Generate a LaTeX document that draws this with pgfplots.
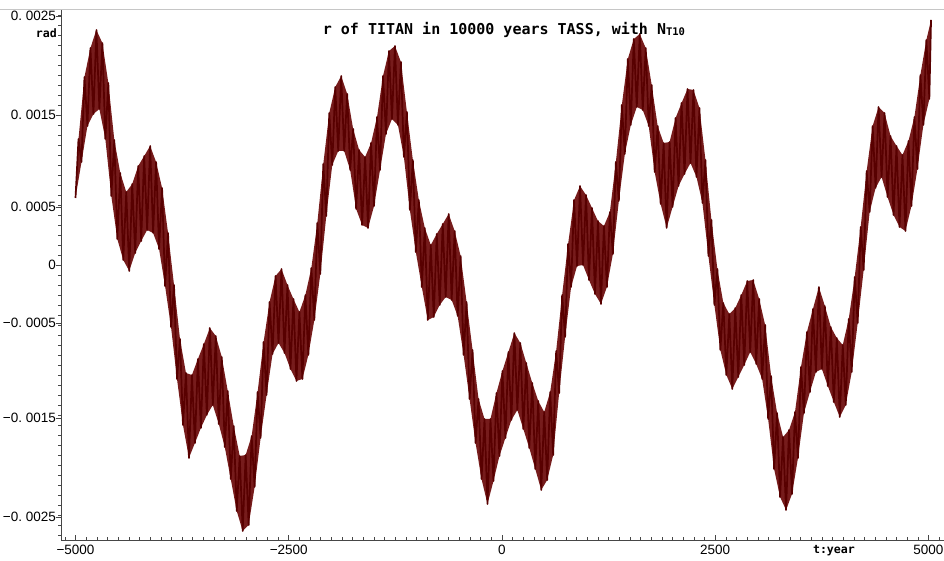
\documentclass[border=0pt]{standalone}
\usepackage{fontspec}
\setmainfont{Liberation Sans}
\newfontfamily\gothic{DejaVu Sans Mono}
\usepackage{pgfplots}
\usepackage{pgfplotstable}
\usepgfplotslibrary{fillbetween}
\pgfplotsset{compat=1.18}
\definecolor{titanred}{RGB}{88,0,0}
\definecolor{titanband}{RGB}{118,28,28}
\definecolor{axisgray}{RGB}{70,70,70}

% r of Titan (rad) against time (years), TASS solution;
% rows alternate between the low and the high turning points
\pgfplotstableread{
t r
-5000 0.00067
-4965 0.00126
-4930 0.00103
-4895 0.00188
-4860 0.00139
-4825 0.00217
-4790 0.00151
-4755 0.00235
-4720 0.00156
-4685 0.00222
-4650 0.00126
-4615 0.00182
-4580 0.00069
-4545 0.00125
-4510 0.00026
-4475 0.00092
-4440 0.00005
-4405 0.00073
-4370 -0.00006
-4335 0.00081
-4300 0.00012
-4265 0.00099
-4230 0.00024
-4195 0.00109
-4160 0.00035
-4125 0.00119
-4090 0.00032
-4055 0.00103
-4020 0.00016
-3985 0.00077
-3950 -0.00021
-3915 0.00032
-3880 -0.00062
-3845 -0.00020
-3810 -0.00114
-3775 -0.00074
-3740 -0.00160
-3705 -0.00108
-3670 -0.00193
-3635 -0.00110
-3600 -0.00178
-3565 -0.00094
-3530 -0.00163
-3495 -0.00079
-3460 -0.00150
-3425 -0.00063
-3390 -0.00140
-3355 -0.00071
-3320 -0.00159
-3285 -0.00092
-3250 -0.00182
-3215 -0.00126
-3180 -0.00214
-3145 -0.00161
-3110 -0.00246
-3075 -0.00191
-3040 -0.00266
-3005 -0.00190
-2970 -0.00260
-2935 -0.00171
-2900 -0.00222
-2865 -0.00127
-2830 -0.00173
-2795 -0.00077
-2760 -0.00130
-2725 -0.00037
-2690 -0.00089
-2655 -0.00011
-2620 -0.00078
-2585 -0.00004
-2550 -0.00088
-2515 -0.00020
-2480 -0.00104
-2445 -0.00034
-2410 -0.00116
-2375 -0.00047
-2340 -0.00114
-2305 -0.00030
-2270 -0.00090
-2235 -0.00003
-2200 -0.00055
-2165 0.00042
-2130 -0.00009
-2095 0.00101
-2060 0.00049
-2025 0.00152
-1990 0.00100
-1955 0.00178
-1920 0.00114
-1885 0.00189
-1850 0.00114
-1815 0.00171
-1780 0.00095
-1745 0.00136
-1710 0.00056
-1675 0.00115
-1640 0.00040
-1605 0.00108
-1570 0.00037
-1535 0.00122
-1500 0.00059
-1465 0.00148
-1430 0.00095
-1395 0.00189
-1360 0.00131
-1325 0.00214
-1290 0.00146
-1255 0.00219
-1220 0.00140
-1185 0.00203
-1150 0.00108
-1115 0.00153
-1080 0.00055
-1045 0.00105
-1010 0.00013
-975 0.00065
-940 -0.00022
-905 0.00037
-870 -0.00055
-835 0.00020
-800 -0.00052
-765 0.00031
-730 -0.00040
-695 0.00041
-660 -0.00032
-625 0.00051
-590 -0.00035
-555 0.00034
-520 -0.00051
-485 0.00009
-450 -0.00090
-415 -0.00037
-380 -0.00134
-345 -0.00085
-310 -0.00178
-275 -0.00134
-240 -0.00214
-205 -0.00154
-170 -0.00239
-135 -0.00154
-100 -0.00216
-65 -0.00128
-30 -0.00191
5 -0.00106
40 -0.00173
75 -0.00087
110 -0.00155
145 -0.00068
180 -0.00145
215 -0.00078
250 -0.00164
285 -0.00098
320 -0.00183
355 -0.00118
390 -0.00204
425 -0.00136
460 -0.00225
495 -0.00147
530 -0.00215
565 -0.00127
600 -0.00190
635 -0.00086
670 -0.00128
705 -0.00030
740 -0.00072
775 0.00021
810 -0.00022
845 0.00065
880 -0.00001
915 0.00079
950 0.00000
985 0.00070
1020 -0.00015
1055 0.00057
1090 -0.00029
1125 0.00044
1160 -0.00039
1195 0.00039
1230 -0.00022
1265 0.00053
1300 0.00011
1335 0.00103
1370 0.00064
1405 0.00160
1440 0.00111
1475 0.00206
1510 0.00140
1545 0.00226
1580 0.00158
1615 0.00231
1650 0.00155
1685 0.00217
1720 0.00139
1755 0.00180
1790 0.00093
1825 0.00139
1860 0.00061
1895 0.00122
1930 0.00037
1965 0.00123
2000 0.00058
2035 0.00147
2070 0.00079
2105 0.00162
2140 0.00091
2175 0.00176
2210 0.00102
2245 0.00175
2280 0.00088
2315 0.00157
2350 0.00062
2385 0.00105
2420 0.00009
2455 0.00045
2490 -0.00040
2525 -0.00004
2560 -0.00085
2595 -0.00038
2630 -0.00110
2665 -0.00049
2700 -0.00124
2735 -0.00043
2770 -0.00112
2805 -0.00030
2840 -0.00100
2875 -0.00016
2910 -0.00087
2945 -0.00015
2980 -0.00099
3015 -0.00034
3050 -0.00114
3085 -0.00060
3120 -0.00154
3155 -0.00111
3190 -0.00204
3225 -0.00148
3260 -0.00232
3295 -0.00172
3330 -0.00245
3365 -0.00165
3400 -0.00229
3435 -0.00147
3470 -0.00193
3505 -0.00102
3540 -0.00148
3575 -0.00067
3610 -0.00127
3645 -0.00044
3680 -0.00107
3715 -0.00022
3750 -0.00104
3785 -0.00041
3820 -0.00121
3855 -0.00062
3890 -0.00137
3925 -0.00073
3960 -0.00152
3995 -0.00080
4030 -0.00140
4065 -0.00054
4100 -0.00107
4135 -0.00012
4170 -0.00058
4205 0.00038
4240 -0.00005
4275 0.00094
4310 0.00053
4345 0.00139
4380 0.00077
4415 0.00158
4450 0.00088
4485 0.00152
4520 0.00068
4555 0.00129
4590 0.00050
4625 0.00119
4660 0.00038
4695 0.00110
4730 0.00034
4765 0.00124
4800 0.00059
4835 0.00148
4870 0.00096
4905 0.00190
4940 0.00140
4975 0.00225
5010 0.00166
5030 0.00245
}\titanr

\begin{document}
\begin{tikzpicture}
\begin{axis}[
  scale only axis, width=883pt, height=531pt,
  xmin=-5170, xmax=5182, ymin=-0.00275, ymax=0.00256,
  axis x line*=bottom, axis y line*=left,
  axis line style={axisgray, line width=0.8pt},
  clip=false,
  xtick={-5000,-2500,0,2500,5000},
  xticklabels={−5000,−2500,0,2500,5000},
  minor xtick={-5125,-5000,...,5125},
  ytick={-0.00252,-0.00153,-0.00058,0,0.00058,0.0015,0.00249},
  yticklabels={−0.\ 0025,−0.\ 0015,−0.\ 0005,0,0.\ 0005,0.\ 0015,0.\ 0025},
  minor ytick={-0.0027,-0.0026,...,0.0025},
  tick align=outside,
  major tick length=5pt, minor tick length=3pt,
  tick style={axisgray, line width=0.6pt},
  major x tick style={yshift=5pt},
  minor x tick style={yshift=3pt},
  tick label style={font=\fontsize{13.5}{14}\selectfont, inner sep=0pt, text=black},
  xticklabel style={anchor=north, yshift=0pt},
  yticklabel style={anchor=east, xshift=0pt},
  /pgf/number format/assume math mode=true,
]
\coordinate (O) at (rel axis cs:0,0);
% envelope of the fast oscillation: high turning points (odd rows), low ones (even rows)
\addplot[draw=none, name path=hi, forget plot,
  x filter/.code={\ifodd\coordindex\else\def\pgfmathresult{}\fi}]
  table[x=t, y=r] {\titanr};
\addplot[draw=none, name path=lo, forget plot,
  x filter/.code={\ifodd\coordindex\def\pgfmathresult{}\fi}]
  table[x=t, y=r] {\titanr};
\addplot[titanband, forget plot] fill between[of=hi and lo];
\addplot[titanred, line width=1.7pt, line join=round, mark=none] table[x=t, y=r] {\titanr};
\node[font=\gothic\bfseries\fontsize{15}{15}\selectfont, inner sep=0pt] at (axis cs:23,0.00235)
  {r of TITAN in 10000 years TASS, with N\raisebox{-1pt}{\fontsize{10.5}{10.5}\selectfont T10}};
\node[font=\gothic\bfseries\fontsize{11.6}{12}\selectfont, anchor=east, inner sep=0pt, xshift=-4pt]
  at (axis cs:-5170,0.00232) {rad};
\node[font=\gothic\bfseries\fontsize{11.6}{12}\selectfont, anchor=north, inner sep=0pt, yshift=-5pt]
  at (axis cs:3892,-0.00275) {t:year};
\end{axis}
% window rule along the top edge
\draw[gray!45, line width=1.6pt] (O) ++(-61pt,530.5pt) -- ++(944pt,0pt);
\pgfresetboundingbox
\path[use as bounding box] (O) ++(-61pt,-21pt) rectangle ++(944pt,561pt);
\end{tikzpicture}
\end{document}
